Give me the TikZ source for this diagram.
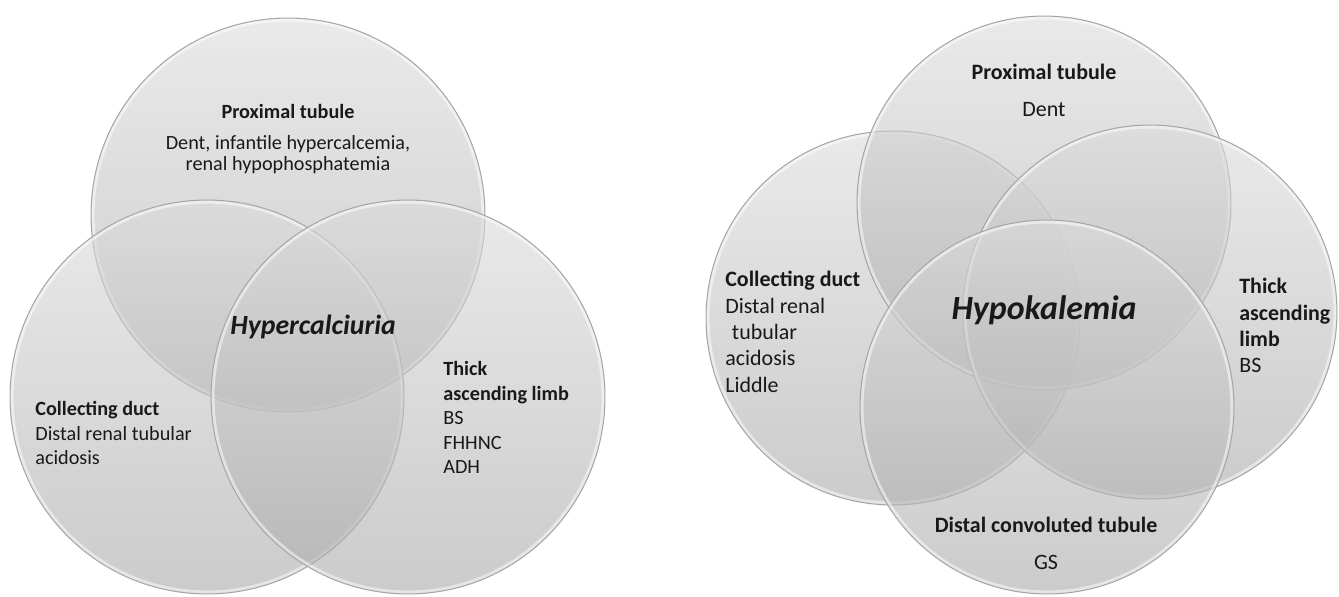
\documentclass[tikz,border=0pt]{standalone}
\usepackage{fontspec}
\setmainfont{Carlito}
\usetikzlibrary{positioning}

\tikzset{
  bubble/.style={circle, inner sep=0pt, draw=gray!70, line width=0.6pt,
    top color=gray!28, bottom color=gray!68, fill opacity=0.6,
    path picture={\draw[white, draw opacity=0.5, line width=4pt]
      (path picture bounding box.center) circle[radius=#1/2];},
    minimum size=#1},
  txt/.style={inner sep=0pt, text=black!90, font=\fontsize{11.5}{14}\selectfont},
  bigtxt/.style={inner sep=0pt, text=black!90, font=\fontsize{12.5}{15}\selectfont},
  hub/.style={inner sep=0pt, text=black!90, font=\fontsize{#1}{#1}\selectfont\bfseries\itshape}
}

\begin{document}
\begin{tikzpicture}[x=0.02cm, y=-0.02cm]
    \useasboundingbox (0,0) rectangle (1339,596);

    % Hypercalciuria circles
    \node[bubble=7.88cm] (hcProx) at (288,215) {};
    \node[bubble=7.88cm] (hcColl) at (207,397) {};
    \node[bubble=7.88cm] (hcTal) at (408,397) {};

    % Hypercalciuria labels
    \node[txt, anchor=north, align=center] (hcProxTxt) at (288,104)
      {\textbf{Proximal tubule}\\[3.5pt]Dent, infantile hypercalcemia,\\[-2pt]renal hypophosphatemia};
    \node[hub=15.8] (hcHub) at (313,327) {Hypercalciuria};
    \node[txt, anchor=north west, align=left] (hcCollTxt) at (35,401)
      {\textbf{Collecting duct}\\Distal renal tubular\\acidosis};
    \node[txt, anchor=north west, align=left] (hcTalTxt) at (443,361)
      {\textbf{Thick}\\\textbf{ascending limb}\\BS\\FHHNC\\ADH};

    % Hypokalemia circles
    \node[bubble=7.48cm] (hkColl) at (893,318) {};
    \node[bubble=7.48cm] (hkProx) at (1044,203) {};
    \node[bubble=7.48cm] (hkTal) at (1150,312) {};
    \node[bubble=7.48cm] (hkDct) at (1047,407) {};

    % Hypokalemia labels
    \node[bigtxt, anchor=north, align=center] (hkProxTxt) at (1044,64)
      {\textbf{Proximal tubule}\\[6pt]Dent};
    \node[bigtxt, anchor=north west, align=left] (hkCollTxt) at (725,271)
      {\textbf{Collecting duct}\\Distal renal\\\hspace{0.3em}tubular\\acidosis\\Liddle};
    \node[hub=19.3] (hkHub) at (1044,310) {Hypokalemia};
    \node[bigtxt, anchor=north west, align=left] (hkTalTxt) at (1239,278)
      {\textbf{Thick}\\\textbf{ascending}\\\textbf{limb}\\BS};
    \node[bigtxt, anchor=north, align=center] (hkDctTxt) at (1046,517)
      {\textbf{Distal convoluted tubule}\\[6pt]GS};
\end{tikzpicture}
\end{document}
